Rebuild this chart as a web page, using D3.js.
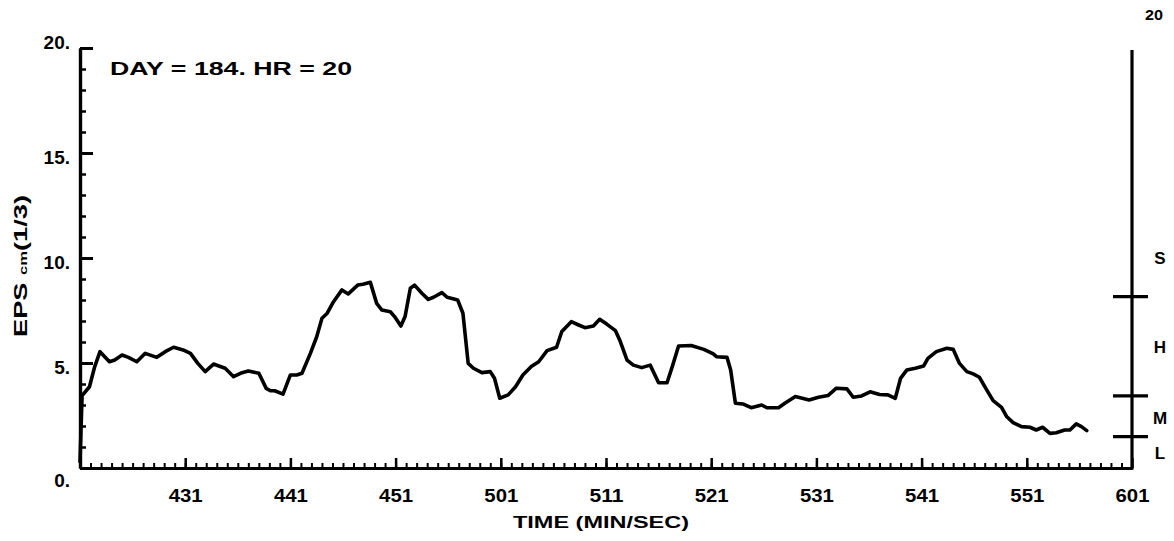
<!DOCTYPE html>
<html><head><meta charset="utf-8">
<script src="https://cdn.jsdelivr.net/npm/d3@7"></script>
<style>
html,body{margin:0;padding:0;background:#fff;}
svg text{font-family:"Liberation Sans","DejaVu Sans",sans-serif;font-weight:bold;fill:#000;}
</style></head>
<body>
<svg id="chart" width="1174" height="541"></svg>
<script>
// seconds after 4:21 (MIN/SEC)
const seconds = [
  0, 0.2, 0.9, 1.4, 1.9, 2.8, 3.3, 4.0, 4.6, 5.4,
  6.2, 7.3, 8.1, 8.9, 9.8, 10.5, 11.2, 11.9, 12.7, 13.2,
  13.8, 14.6, 15.4, 16.0, 17.0, 17.7, 18.1, 18.5, 19.3, 20.0,
  20.6, 21.1, 21.9, 22.5, 23.0, 23.5, 24.1, 24.9, 25.5, 26.4,
  26.9, 27.6, 28.2, 28.7, 29.5, 29.9, 30.5, 30.9, 31.4, 31.8,
  32.5, 33.1, 33.6, 34.4, 34.9, 35.9, 36.4, 36.9, 37.4, 38.2,
  39.0, 39.4, 39.9, 40.7, 41.4, 42.1, 42.9, 43.6, 44.4, 45.3,
  45.8, 46.7, 47.4, 48.0, 48.8, 49.4, 50.1, 50.9, 51.3, 52.0,
  52.6, 53.4, 54.2, 55.0, 55.8, 56.3, 56.9, 58.1, 59.3, 60.2,
  60.5, 61.5, 61.85, 62.3, 63.0, 63.8, 64.8, 65.3, 66.4, 67.0,
  68.0, 69.3, 70.2, 71.1, 71.9, 72.9, 73.5, 74.3, 75.1, 76.0,
  76.8, 77.5, 78.0, 78.6, 79.4, 80.2, 80.6, 81.4, 82.4, 83.0,
  83.6, 84.3, 84.9, 85.5, 86.2, 86.8, 87.6, 88.1, 88.7, 89.5,
  90.3, 90.9, 91.5, 92.2, 92.8, 93.6, 94.1, 94.7, 95.2, 95.7
];
const eps = [
  0.3, 3.45, 3.87, 4.83, 5.54, 5.06, 5.14, 5.38, 5.27, 5.06,
  5.46, 5.27, 5.54, 5.75, 5.62, 5.46, 4.98, 4.59, 4.95, 4.86,
  4.75, 4.35, 4.54, 4.62, 4.51, 3.79, 3.68, 3.68, 3.52, 4.43,
  4.43, 4.51, 5.46, 6.25, 7.13, 7.37, 7.92, 8.48, 8.29, 8.71,
  8.75, 8.84, 7.84, 7.52, 7.44, 7.21, 6.76, 7.21, 8.56, 8.71,
  8.32, 8.03, 8.13, 8.35, 8.13, 8.0, 7.37, 4.98, 4.75, 4.54,
  4.59, 4.27, 3.32, 3.48, 3.87, 4.43, 4.83, 5.06, 5.59, 5.75,
  6.5, 6.97, 6.81, 6.68, 6.76, 7.08, 6.84, 6.54, 6.1, 5.14,
  4.9, 4.78, 4.9, 4.06, 4.06, 4.83, 5.81, 5.83, 5.65, 5.43,
  5.3, 5.27, 4.67, 3.08, 3.05, 2.87, 3.0, 2.87, 2.87, 3.08,
  3.4, 3.24, 3.37, 3.45, 3.8, 3.77, 3.37, 3.43, 3.63, 3.5,
  3.48, 3.32, 4.27, 4.67, 4.75, 4.86, 5.22, 5.54, 5.7, 5.65,
  4.98, 4.59, 4.48, 4.32, 3.71, 3.21, 2.89, 2.44, 2.16, 1.97,
  1.94, 1.81, 1.94, 1.65, 1.68, 1.81, 1.81, 2.1, 1.97, 1.78
];
const xMajorTicks = [10, 20, 30, 40, 50, 60, 70, 80, 90, 100];
const xTickLabels = ["431", "441", "451", "501", "511", "521", "531", "541", "551", "601"];
const yMajorTicks = [0, 5, 10, 15, 20];
const yTickLabels = ["0.", "5.", "10.", "15.", "20."];
const rightTicks = [8.16, 3.43, 1.49];
const rightLabels = ["S", "H", "M", "L"];
const rightLabelValues = [10.0, 5.75, 2.4, 0.7];
const rightTopLabel = "20";
const titleText = "DAY = 184. HR = 20";
const xTitle = "TIME (MIN/SEC)";

const svg = d3.select("#chart");
const x = d3.scaleLinear().domain([0, 100]).range([80, 1132]);
const y = d3.scaleLinear().domain([0, 20]).range([468, 48]);

// bottom axis: minor ticks (every second)
const gxMinor = svg.append("g").attr("transform", `translate(0,${y(0)})`)
  .call(d3.axisBottom(x).tickValues(d3.range(1, 100)).tickSizeInner(-5).tickSizeOuter(0).tickFormat(""));
gxMinor.selectAll(".tick line").attr("stroke", "#000").attr("stroke-width", 2);
// bottom axis: major ticks + labels
const gx = svg.append("g").attr("transform", `translate(0,${y(0)})`)
  .call(d3.axisBottom(x).tickValues(xMajorTicks).tickSizeInner(-10).tickSizeOuter(0)
    .tickPadding(21).tickFormat((d, i) => xTickLabels[i]));
gx.selectAll(".tick line").attr("stroke", "#000").attr("stroke-width", 2.5);
gx.selectAll("text").attr("font-size", 19).attr("textLength", 34).attr("lengthAdjust", "spacingAndGlyphs");

// left axis: minor ticks every unit
const gyMinor = svg.append("g").attr("transform", `translate(${x(0)},0)`)
  .call(d3.axisLeft(y).tickValues(d3.range(1, 20)).tickSizeInner(-6).tickSizeOuter(0).tickFormat(""));
gyMinor.selectAll(".tick line").attr("stroke", "#000").attr("stroke-width", 2.5);
const gy = svg.append("g").attr("transform", `translate(${x(0)},0)`)
  .call(d3.axisLeft(y).tickValues(yMajorTicks).tickSizeInner(-13).tickSizeOuter(0)
    .tickPadding(10).tickFormat((d, i) => yTickLabels[i]));
gy.selectAll(".tick line").attr("stroke", "#000").attr("stroke-width", 3);
gy.selectAll("text").attr("font-size", 19)
  .attr("dy", d => d === 0 ? "0.95em" : (d === 20 ? "0.0em" : "0.55em"));

svg.selectAll(".domain").attr("stroke", "#000").attr("stroke-width", 3.2);

// right scale
svg.append("line").attr("x1", x(100)).attr("x2", x(100)).attr("y1", y(0) + 1.5).attr("y2", y(19.9))
  .attr("stroke", "#000").attr("stroke-width", 3.2);
svg.append("g").selectAll("line").data(rightTicks).join("line")
  .attr("x1", x(100) - 19).attr("x2", x(100) + 16)
  .attr("y1", d => y(d)).attr("y2", d => y(d))
  .attr("stroke", "#000").attr("stroke-width", 3.2);
svg.append("g").selectAll("text").data(rightLabels).join("text")
  .attr("x", x(100) + 28).attr("y", (d, i) => y(rightLabelValues[i]))
  .attr("dy", "0.36em").attr("text-anchor", "middle").attr("font-size", 17)
  .text(d => d);
svg.append("text").attr("x", x(100) + 22).attr("y", 20).attr("text-anchor", "middle")
  .attr("font-size", 15).attr("textLength", 18).attr("lengthAdjust", "spacingAndGlyphs").text(rightTopLabel);

// data line
const line = d3.line().x((d, i) => x(seconds[i])).y(d => y(d)).curve(d3.curveLinear);
svg.append("path").datum(eps).attr("d", line)
  .attr("fill", "none").attr("stroke", "#000").attr("stroke-width", 3.6)
  .attr("stroke-linejoin", "round").attr("stroke-linecap", "round");

// title inside plot
svg.append("text").attr("x", 110).attr("y", 75).attr("font-size", 19)
  .attr("textLength", 242).attr("lengthAdjust", "spacingAndGlyphs").text(titleText);

// x title
svg.append("text").attr("x", 513).attr("y", 528).attr("font-size", 17)
  .attr("textLength", 176).attr("lengthAdjust", "spacingAndGlyphs").text(xTitle);

// y title
const yt = svg.append("text").attr("transform", "translate(27,337) rotate(-90)").attr("font-size", 18)
  .attr("textLength", 142).attr("lengthAdjust", "spacingAndGlyphs");
yt.append("tspan").text("EPS ");
yt.append("tspan").attr("font-size", 11).text("cm");
yt.append("tspan").text("(1/3)");
</script>
</body></html>
